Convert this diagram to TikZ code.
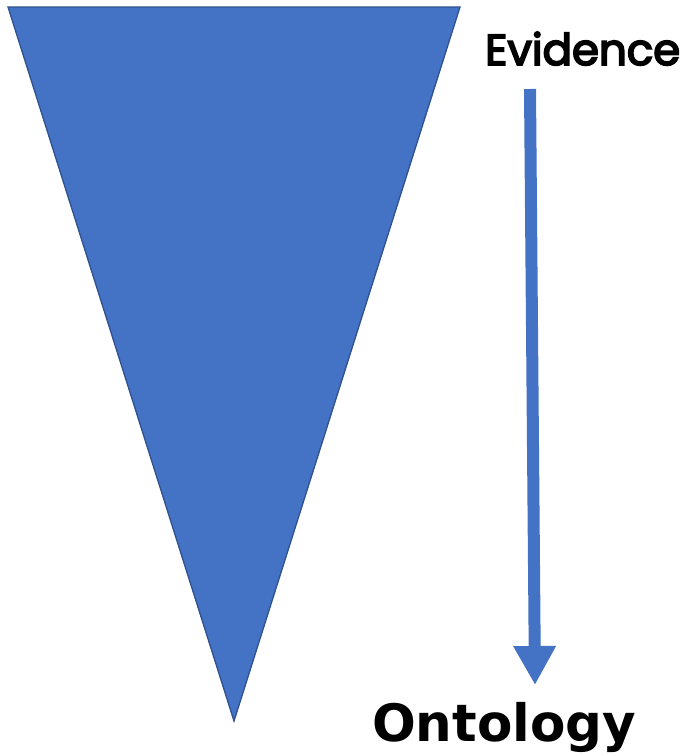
\documentclass[tikz,border=0pt]{standalone}
\usepackage{fontspec}
\setmainfont{DejaVu Sans}
\newfontfamily\gothicfont[FakeBold=4]{Poppins}
\usetikzlibrary{arrows.meta}
\definecolor{slideblue}{HTML}{4472C4}
\definecolor{slideedge}{HTML}{2F528F}

\begin{document}
\begin{tikzpicture}[x=1pt,y=-1pt]
\useasboundingbox (0,0) rectangle (685,755);
\coordinate (topL) at (8,7);
\coordinate (topR) at (460,7);
\coordinate (apex) at (234,721);
\draw[slideedge, line width=1.3pt, fill=slideblue, line join=miter] (topL)--(topR)--(apex)--cycle;
\node[anchor=base west, inner sep=0pt] (evid) at (485,65) {\gothicfont\fontsize{43.5}{43.5}\selectfont Evidence};
\node[anchor=base west, inner sep=0pt] (onto) at (372,741) {\bfseries\fontsize{51.5}{51.5}\selectfont Ontology};
\coordinate (arrtop) at (530,89);
\coordinate (arrend) at (535,685);
\draw[slideblue, line width=12pt, -{Triangle[width=40pt,length=39pt]}] (arrtop)--(arrend);
\end{tikzpicture}
\end{document}
